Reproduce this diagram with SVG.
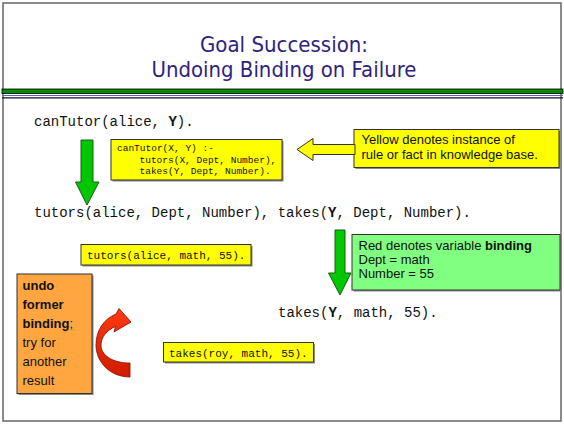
<svg xmlns="http://www.w3.org/2000/svg" width="564" height="424" viewBox="0 0 564 424">
<defs>
<style>
.mono{font-family:"Liberation Mono","Courier New",monospace;fill:#111}
.sans{font-family:"Liberation Sans",Arial,sans-serif;fill:#111;font-size:13px}
.title{font-family:"DejaVu Sans","Liberation Sans",sans-serif;fill:#2e2380;font-size:21px}
.yel{fill:#ffff00;stroke:#333;stroke-width:1}
.shadow{fill:#888}
.garrow{fill:#00c800;stroke:#1a5a1a;stroke-width:1}
</style>
<linearGradient id="redg" x1="0" y1="0" x2="0" y2="1">
<stop offset="0" stop-color="#ff3a10"/>
<stop offset="1" stop-color="#d01c00"/>
</linearGradient>
</defs>
<rect x="0" y="0" width="564" height="424" fill="#fff"/>
<rect x="3" y="3" width="558" height="418" fill="none" stroke="#666" stroke-width="1.5"/>

<g id="title">
<text class="title" x="284" y="52" text-anchor="middle" textLength="168" lengthAdjust="spacingAndGlyphs">Goal Succession:</text>
<text class="title" x="284" y="77" text-anchor="middle" textLength="265" lengthAdjust="spacingAndGlyphs">Undoing Binding on Failure</text>
</g>
<g id="rule-lines">
<rect x="2" y="89" width="561" height="4.5" fill="#008a00" stroke="#000" stroke-width="0.8"/>
<line x1="2" y1="95.5" x2="563" y2="95.5" stroke="#6060b0" stroke-width="1"/>
<line x1="2" y1="97.8" x2="563" y2="97.8" stroke="#101040" stroke-width="1.2"/>
</g>

<g id="goal1">
<text class="mono" x="34" y="126" font-size="14">canTutor(alice, <tspan font-weight="bold">Y</tspan>).</text>
</g>
<g id="goal2">
<text class="mono" x="34" y="216.5" font-size="14">tutors(alice, Dept, Number), takes(<tspan font-weight="bold">Y</tspan>, Dept, Number).</text>
</g>
<g id="goal3">
<text class="mono" x="278" y="316.5" font-size="14">takes(<tspan font-weight="bold">Y</tspan>, math, 55).</text>
</g>

<g id="rule-box">
<rect class="shadow" x="112.5" y="141" width="171" height="40.5"/>
<rect class="yel" x="111" y="139.5" width="171" height="40.5"/>
<text class="mono" font-size="9.5" x="117" y="151">canTutor(X, Y) :-</text>
<text class="mono" font-size="9.5" x="139.5" y="162.7">tutors(X, Dept, Number),</text>
<text class="mono" font-size="9.5" x="139.5" y="173.7">takes(Y, Dept, Number).</text>
</g>

<g id="yellow-note">
<rect class="shadow" x="355.5" y="131" width="205" height="38"/>
<rect class="yel" x="354" y="129.5" width="205" height="38"/>
<text class="sans" x="361.5" y="144">Yellow denotes instance of</text>
<text class="sans" x="361.5" y="159">rule or fact in knowledge base.</text>
</g>

<g id="tutors-fact">
<rect class="shadow" x="82.5" y="246" width="170" height="20.5"/>
<rect class="yel" x="81" y="244.5" width="170" height="20.5"/>
<text class="mono" font-size="11" x="87" y="258.5">tutors(alice, math, 55).</text>
</g>

<g id="green-note">
<rect class="shadow" x="353.5" y="236" width="208" height="55.5"/>
<rect x="352" y="234.5" width="208" height="55.5" fill="#80ff80" stroke="#333" stroke-width="1"/>
<text class="sans" x="358.5" y="250">Red denotes variable <tspan font-weight="bold">binding</tspan></text>
<text class="sans" x="358.5" y="263.8">Dept = math</text>
<text class="sans" x="358.5" y="277.6">Number = 55</text>
</g>

<g id="undo-note">
<rect class="shadow" x="18.5" y="275.5" width="75" height="119.5"/>
<rect x="17" y="274" width="75" height="119.5" fill="#ffa640" stroke="#333" stroke-width="1"/>
<g class="sans" font-size="15">
<text x="22.5" y="290" font-weight="bold">undo</text>
<text x="22.5" y="309" font-weight="bold">former</text>
<text x="22.5" y="328"><tspan font-weight="bold">binding</tspan>;</text>
<text x="22.5" y="347">try for</text>
<text x="22.5" y="366">another</text>
<text x="22.5" y="384.5">result</text>
</g>
</g>

<g id="takes-fact">
<rect class="shadow" x="165" y="344" width="150" height="19.5"/>
<rect class="yel" x="163.5" y="342.5" width="150" height="19.5"/>
<text class="mono" font-size="11" x="169" y="356.5">takes(roy, math, 55).</text>
</g>

<g id="connectors">
<path class="garrow" d="M81,140 H93 V182 H99 L87,205 L75.5,182 H81 Z"/>
<path class="garrow" d="M335,230 H345 V273 H351 L340,295 L328.5,273 H335 Z"/>
<path d="M297,149.5 L313,138.5 V144.5 H355 V154.5 H313 V160.5 Z" fill="#ffff00" stroke="#333" stroke-width="1"/>
<path d="M130,377 C110,377 96,362 96,345 C96,330 104,319 116,314 L119,308.5 L131,322 L114,332 L115.5,326.5 C107,330 101,337 101,345 C101,355 112,363 130,363 Z" fill="url(#redg)" stroke="#7a1000" stroke-width="0.8"/>
</g>
</svg>
